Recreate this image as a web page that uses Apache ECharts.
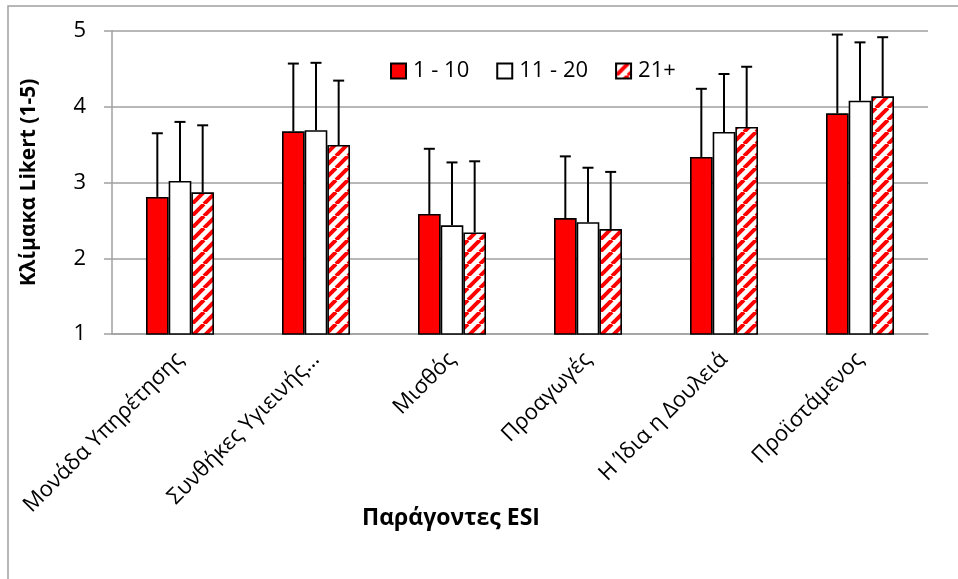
<!DOCTYPE html>
<html>
<head>
<meta charset="utf-8">
<script src="https://cdn.jsdelivr.net/npm/echarts@6/dist/echarts.min.js"></script>
<style>html,body{margin:0;padding:0;background:#fff}#c{width:958px;height:579px}</style>
</head>
<body>
<div id="c"></div>
<script>
// ---- data ----
const categories = ['Μονάδα Υπηρέτησης', 'Συνθήκες Υγιεινής…', 'Μισθός', 'Προαγωγές', 'Η Ίδια η Δουλειά', 'Προϊστάμενος'];
const seriesNames = ['1 - 10', '11 - 20', '21+'];
const values1 = [2.81, 3.675, 2.585, 2.53, 3.337, 3.913];
const values2 = [3.02, 3.69, 2.435, 2.475, 3.667, 4.08];
const values3 = [2.87, 3.495, 2.34, 2.385, 3.733, 4.138];
const errors1 = [0.84, 0.895, 0.86, 0.815, 0.90, 1.04];
const errors2 = [0.78, 0.89, 0.83, 0.72, 0.765, 0.77];
const errors3 = [0.885, 0.85, 0.94, 0.755, 0.795, 0.78];
const yTicks = [1, 2, 3, 4, 5];
const yTitle = 'Κλίμακα Likert (1-5)';
const xTitle = 'Παράγοντες ESI';

const FONT = '"Open Sans", "Noto Sans", sans-serif';

function makeHatch() {
  const P = 12, c = document.createElement('canvas');
  c.width = P; c.height = P;
  const g = c.getContext('2d');
  g.fillStyle = '#ffffff'; g.fillRect(0, 0, P, P);
  g.strokeStyle = '#ff0000'; g.lineWidth = 4;
  g.beginPath();
  [-P, 0, P].forEach(k => { g.moveTo(k, P); g.lineTo(k + P, 0); });
  g.stroke();
  return c;
}
const hatch = { image: makeHatch(), repeat: 'repeat' };
const fills = ['#ff0000', '#ffffff', hatch];
const allValues = [values1, values2, values3];
const allErrors = [errors1, errors2, errors3];

function barSeries(si) {
  return {
    type: 'bar', name: seriesNames[si], data: allValues[si],
    barGap: '0%', barCategoryGap: '50%',
    itemStyle: { color: fills[si], borderColor: '#000', borderWidth: 1.6 },
    z: 2
  };
}
function errSeries(si) {
  return {
    type: 'custom', id: 'err' + si, silent: true, z: 3,
    data: allValues[si].map((v, i) => [i, v, allErrors[si][i]]),
    encode: { x: 0, y: 1 },
    renderItem(params, api) {
      const ci = api.value(0), v = api.value(1), e = api.value(2);
      const base = api.coord([ci, v]);
      const top = api.coord([ci, v + e]);
      const bw = api.size([1, 0])[0] * 0.5 / 3;
      const x = base[0] + (si - 1) * bw;
      return { type: 'group', children: [
        { type: 'line', shape: { x1: x, y1: base[1], x2: x, y2: top[1] }, style: { stroke: '#000', lineWidth: 2 } },
        { type: 'line', shape: { x1: x - 5.5, y1: top[1], x2: x + 5.5, y2: top[1] }, style: { stroke: '#000', lineWidth: 2 } }
      ]};
    }
  };
}

const chart = echarts.init(document.getElementById('c'), null, { renderer: 'canvas' });
chart.setOption({
  animation: false,
  backgroundColor: '#ffffff',
  textStyle: { fontFamily: FONT },
  grid: { left: 112, right: 30, top: 31, bottom: 245, containLabel: false },
  legend: {
    data: seriesNames, left: 385, top: 55, itemWidth: 15, itemHeight: 15, itemGap: 27,
    icon: 'rect',
    textStyle: { fontFamily: FONT, fontSize: 22, color: '#000', lineHeight: 22, padding: [0, 0, 0, 2] }
  },
  xAxis: {
    type: 'category', data: categories,
    axisLine: { show: true, lineStyle: { color: '#a0a0a0', width: 1.5 } },
    axisTick: { show: false },
    axisLabel: { rotate: 45, interval: 0, margin: 22, fontSize: 22, color: '#000', fontFamily: FONT }
  },
  yAxis: {
    type: 'value', min: yTicks[0], max: yTicks[yTicks.length - 1], interval: 1,
    name: yTitle, nameLocation: 'middle', nameGap: 72,
    nameTextStyle: { fontFamily: FONT, fontSize: 21, fontWeight: 'bold', color: '#000' },
    axisLine: { show: true, lineStyle: { color: '#a0a0a0', width: 1.5 } },
    axisTick: { show: true, length: 8, lineStyle: { color: '#a0a0a0', width: 1.5 } },
    splitLine: { lineStyle: { color: '#a0a0a0', width: 1.5 } },
    axisLabel: { margin: 26, fontSize: 22, color: '#000', fontFamily: FONT }
  },
  graphic: [
    { type: 'rect', shape: { x: 8, y: 6, width: 1200, height: 1200 }, style: { fill: 'none', stroke: '#a0a0a0', lineWidth: 1.5 }, silent: true, z: -1 },
    { type: 'text', x: 451, y: 518, style: { text: xTitle, fontFamily: FONT, fontSize: 23, fontWeight: 'bold', fill: '#000', textAlign: 'center', textVerticalAlign: 'middle' } }
  ],
  series: [barSeries(0), barSeries(1), barSeries(2), errSeries(0), errSeries(1), errSeries(2)]
});
</script>
</body>
</html>
